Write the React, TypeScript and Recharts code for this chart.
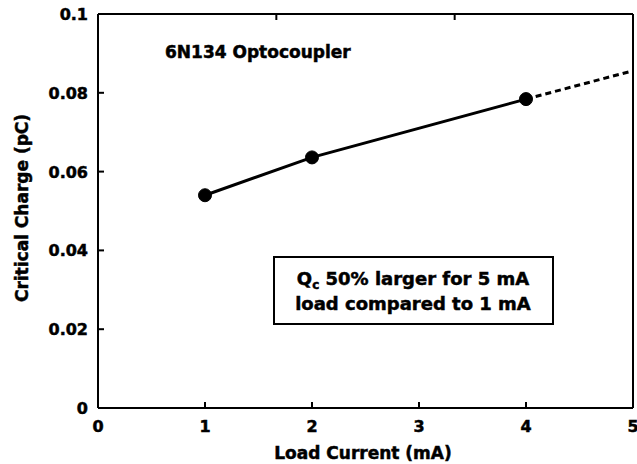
import React from 'react';
import { LineChart, Line, XAxis, YAxis } from 'recharts';

const loadCurrent = [1, 2, 4, 5];
const measuredCharge: (number | null)[] = [0.054, 0.0636, 0.0784, null];
const extrapolatedCharge: (number | null)[] = [null, null, 0.0784, 0.0856];
const xTicks = [0, 1, 2, 3, 4, 5];
const yTicks = [0, 0.02, 0.04, 0.06, 0.08, 0.1];
const topTicks = [1, 2, 3, 4];
const rightTicks = [0.02, 0.04, 0.06, 0.08];

const data = loadCurrent.map((c, i) => ({
  current: c,
  measured: measuredCharge[i],
  extrapolated: extrapolatedCharge[i],
}));

const FONT = 'DejaVu Sans';
const TICK_LEN = 6;

const textProps = {
  fontFamily: FONT,
  fontWeight: 700,
  fill: '#000',
  stroke: '#000',
  strokeWidth: 0.5,
};

const BottomTick = (props: any) => {
  const { x, y, payload } = props;
  return (
    <g>
      <line x1={x} y1={y} x2={x} y2={y - TICK_LEN} stroke="#000" strokeWidth={2} />
      <text x={x} y={y + 24} textAnchor="middle" fontSize={16} {...textProps}>
        {String(payload.value)}
      </text>
    </g>
  );
};

const LeftTick = (props: any) => {
  const { x, y, payload } = props;
  return (
    <g>
      <line x1={x} y1={y} x2={x + TICK_LEN} y2={y} stroke="#000" strokeWidth={2} />
      <text x={x - 10} y={y + 6} textAnchor="end" fontSize={16} {...textProps}>
        {String(payload.value)}
      </text>
    </g>
  );
};

const TopTick = (props: any) => {
  const { x, y } = props;
  return <line x1={x} y1={y} x2={x} y2={y + TICK_LEN} stroke="#000" strokeWidth={2} />;
};

const RightTick = (props: any) => {
  const { x, y } = props;
  return <line x1={x} y1={y} x2={x - TICK_LEN} y2={y} stroke="#000" strokeWidth={2} />;
};

export default function App() {
  return (
    <div style={{ position: 'absolute', left: 0, top: 0, width: 637, height: 464, background: '#fff' }}>
      <LineChart width={637} height={464} data={data} margin={{ top: 13, right: 3, bottom: 0, left: 0 }}>
        <XAxis
          dataKey="current"
          type="number"
          domain={[0, 5]}
          ticks={xTicks}
          interval={0}
          height={56}
          tickSize={0}
          tickMargin={0}
          tickLine={false}
          axisLine={{ stroke: '#000', strokeWidth: 2 }}
          tick={BottomTick}
        />
        <XAxis
          xAxisId="top"
          orientation="top"
          type="number"
          domain={[0, 5]}
          ticks={topTicks}
          interval={0}
          height={1}
          tickSize={0}
          tickMargin={0}
          tickLine={false}
          tick={TopTick}
          axisLine={{ stroke: '#000', strokeWidth: 2 }}
        />
        <YAxis
          type="number"
          domain={[0, 0.1]}
          ticks={yTicks}
          interval={0}
          width={98}
          tickSize={0}
          tickMargin={0}
          tickLine={false}
          axisLine={{ stroke: '#000', strokeWidth: 2 }}
          tick={LeftTick}
        />
        <YAxis
          yAxisId="right"
          orientation="right"
          type="number"
          domain={[0, 0.1]}
          ticks={rightTicks}
          interval={0}
          width={1}
          tickSize={0}
          tickMargin={0}
          tickLine={false}
          tick={RightTick}
          axisLine={{ stroke: '#000', strokeWidth: 2 }}
        />
        <Line
          dataKey="extrapolated"
          stroke="#000"
          strokeWidth={3}
          strokeDasharray="6 4"
          dot={false}
          activeDot={false}
          isAnimationActive={false}
          connectNulls={false}
        />
        <Line
          dataKey="measured"
          stroke="#000"
          strokeWidth={3}
          dot={{ r: 6.5, fill: '#000', stroke: '#000', strokeWidth: 1 }}
          activeDot={false}
          isAnimationActive={false}
          connectNulls={false}
        />
      </LineChart>
      <svg
        width={637}
        height={464}
        style={{ position: 'absolute', left: 0, top: 0, pointerEvents: 'none' }}
      >
        <g {...textProps}>
          <text x={165} y={58} fontSize={17}>6N134 Optocoupler</text>
          <text x={363} y={459} fontSize={17} textAnchor="middle">Load Current (mA)</text>
          <text x={28} y={208} fontSize={17} textAnchor="middle" transform="rotate(-90 28 208)">
            Critical Charge (pC)
          </text>
        </g>
        <rect x={274} y={257} width={279} height={67} fill="#fff" stroke="#000" strokeWidth={2} />
        <g {...textProps}>
          <text x={413} y={285} fontSize={18} textAnchor="middle">
            Q<tspan fontSize={12} dy={4}>c</tspan>
            <tspan dy={-4}> 50% larger for 5 mA</tspan>
          </text>
          <text x={413} y={310} fontSize={18} textAnchor="middle">load compared to 1 mA</text>
        </g>
      </svg>
    </div>
  );
}
